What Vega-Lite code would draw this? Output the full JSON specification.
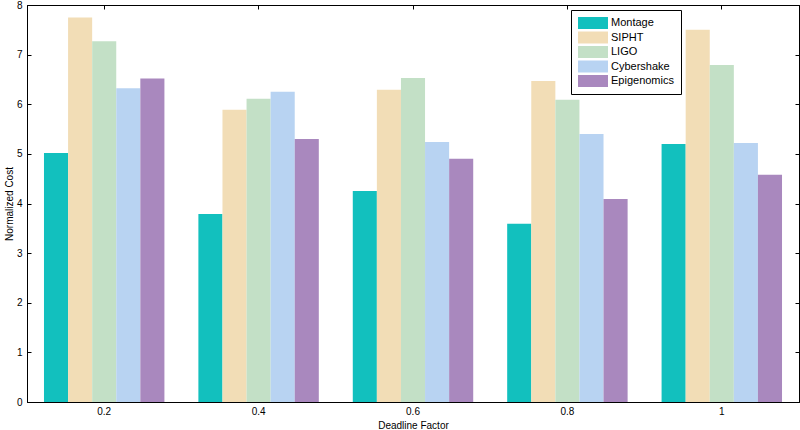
{
  "$schema": "https://vega.github.io/schema/vega-lite/v6.json",
  "autosize": {"type": "none"},
  "padding": {"left": 27, "top": 5, "right": 1, "bottom": 28},
  "width": 772,
  "height": 397,
  "config": {
    "font": "Liberation Sans",
    "view": {"stroke": "#000000", "strokeWidth": 1},
    "axis": {"grid": false, "domainColor": "#000000", "tickColor": "#000000", "labelColor": "#000000", "titleColor": "#000000", "labelFontSize": 10, "titleFontSize": 10, "titleFontWeight": "normal"}
  },
  "data": {"values": [
    {"f": "0.2", "s": "Montage", "v": 5.02},
    {"f": "0.2", "s": "SIPHT", "v": 7.75},
    {"f": "0.2", "s": "LIGO", "v": 7.27},
    {"f": "0.2", "s": "Cybershake", "v": 6.32},
    {"f": "0.2", "s": "Epigenomics", "v": 6.52},
    {"f": "0.4", "s": "Montage", "v": 3.79},
    {"f": "0.4", "s": "SIPHT", "v": 5.89},
    {"f": "0.4", "s": "LIGO", "v": 6.11},
    {"f": "0.4", "s": "Cybershake", "v": 6.25},
    {"f": "0.4", "s": "Epigenomics", "v": 5.3},
    {"f": "0.6", "s": "Montage", "v": 4.25},
    {"f": "0.6", "s": "SIPHT", "v": 6.29},
    {"f": "0.6", "s": "LIGO", "v": 6.53},
    {"f": "0.6", "s": "Cybershake", "v": 5.24},
    {"f": "0.6", "s": "Epigenomics", "v": 4.9},
    {"f": "0.8", "s": "Montage", "v": 3.59},
    {"f": "0.8", "s": "SIPHT", "v": 6.47},
    {"f": "0.8", "s": "LIGO", "v": 6.09},
    {"f": "0.8", "s": "Cybershake", "v": 5.4},
    {"f": "0.8", "s": "Epigenomics", "v": 4.09},
    {"f": "1", "s": "Montage", "v": 5.2},
    {"f": "1", "s": "SIPHT", "v": 7.5},
    {"f": "1", "s": "LIGO", "v": 6.79},
    {"f": "1", "s": "Cybershake", "v": 5.22},
    {"f": "1", "s": "Epigenomics", "v": 4.58}
  ]},
  "layer": [
    {
      "mark": {"type": "bar"},
      "encoding": {
        "x": {"field": "f", "type": "nominal", "sort": null, "scale": {"paddingInner": 0.22, "paddingOuter": 0.11},
              "axis": {"title": "Deadline Factor", "labelAngle": 0, "tickSize": -4, "labelPadding": 8, "titlePadding": 4}},
        "xOffset": {"field": "s", "type": "nominal", "sort": ["Montage", "SIPHT", "LIGO", "Cybershake", "Epigenomics"], "scale": {"paddingInner": 0, "paddingOuter": 0}},
        "y": {"field": "v", "type": "quantitative", "scale": {"domain": [0, 8], "nice": false},
              "axis": {"title": "Normalized Cost", "values": [0,1,2,3,4,5,6,7,8], "tickSize": -4, "labelPadding": 9, "titlePadding": 2}},
        "color": {"field": "s", "type": "nominal", "sort": ["Montage", "SIPHT", "LIGO", "Cybershake", "Epigenomics"],
                  "scale": {"domain": ["Montage", "SIPHT", "LIGO", "Cybershake", "Epigenomics"], "range": ["#12C0BE", "#F2DDB6", "#C3E0C6", "#B8D3F2", "#A988BE"]},
                  "legend": {"title": null, "orient": "none", "legendX": 544, "legendY": 5, "strokeColor": "#000000", "fillColor": "#ffffff", "padding": 7,
                             "symbolType": "M-1,-1H4V1H-1Z", "symbolSize": 144, "symbolStrokeWidth": 0, "symbolOpacity": 1, "labelFontSize": 11, "labelColor": "#000000", "rowPadding": 2.5, "labelOffset": 21}}
      }
    },
    {
      "mark": {"type": "bar", "opacity": 0},
      "encoding": {
        "x": {"field": "f", "type": "nominal", "sort": null, "axis": {"orient": "top", "title": null, "labels": false, "tickSize": -4}},
        "xOffset": {"field": "s", "type": "nominal", "sort": ["Montage", "SIPHT", "LIGO", "Cybershake", "Epigenomics"]},
        "y": {"field": "v", "type": "quantitative", "axis": {"orient": "right", "title": null, "labels": false, "values": [0,1,2,3,4,5,6,7,8], "tickSize": -4}}
      }
    }
  ],
  "resolve": {"axis": {"x": "independent", "y": "independent"}}
}
